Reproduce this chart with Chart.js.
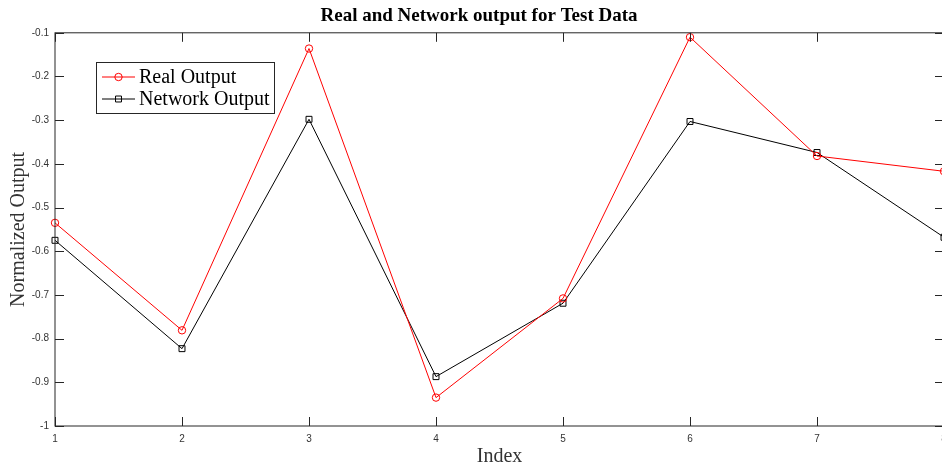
<!DOCTYPE html>
<html>
<head>
<meta charset="utf-8">
<script src="https://cdn.jsdelivr.net/npm/chart.js@4.4.1/dist/chart.umd.min.js"></script>
<style>
  html, body { margin: 0; padding: 0; background: #fff; overflow: hidden; }
  #wrap { width: 960px; height: 469px; }
</style>
</head>
<body>
<div id="wrap"><canvas id="chart" width="960" height="469"></canvas></div>
<script>
// Data
const indexValues = [1, 2, 3, 4, 5, 6, 7, 8];
const realOutput = [-0.535, -0.781, -0.136, -0.935, -0.708, -0.110, -0.382, -0.417];
const networkOutput = [-0.575, -0.823, -0.298, -0.887, -0.719, -0.303, -0.374, -0.568];
const yTicks = [-1, -0.9, -0.8, -0.7, -0.6, -0.5, -0.4, -0.3, -0.2, -0.1];

const serif = '"Liberation Serif", "Times New Roman", serif';
const sans = '"Liberation Sans", Arial, sans-serif';
const axisColor = '#262626';

function toPoints(values) {
  return indexValues.map((x, i) => ({ x: x, y: values[i] }));
}

// Axes box with inward ticks on all four sides (MATLAB style)
const boxPlugin = {
  id: 'box',
  afterDatasetsDraw(chart) {
    const { ctx, chartArea: a, scales } = chart;
    const len = 9;
    ctx.save();
    ctx.strokeStyle = axisColor;
    ctx.lineWidth = 1;
    ctx.strokeRect(a.left, a.top, a.right - a.left, a.bottom - a.top);
    ctx.beginPath();
    scales.x.ticks.forEach(t => {
      const px = Math.round(scales.x.getPixelForValue(t.value)) + 0.5;
      ctx.moveTo(px, a.bottom); ctx.lineTo(px, a.bottom - len);
      ctx.moveTo(px, a.top); ctx.lineTo(px, a.top + len);
    });
    scales.y.ticks.forEach(t => {
      const py = Math.round(scales.y.getPixelForValue(t.value)) + 0.5;
      ctx.moveTo(a.left, py); ctx.lineTo(a.left + len, py);
      ctx.moveTo(a.right, py); ctx.lineTo(a.right - len, py);
    });
    ctx.stroke();
    ctx.restore();
  }
};

// Boxed legend in the upper left of the plot
const legendBox = {
  id: 'legendBox',
  afterDraw(chart) {
    const ctx = chart.ctx;
    const x0 = 96, y0 = 62, w = 178, h = 51;
    ctx.save();
    ctx.fillStyle = '#fff';
    ctx.fillRect(x0, y0, w, h);
    ctx.strokeStyle = axisColor;
    ctx.lineWidth = 1;
    ctx.strokeRect(x0 + 0.5, y0 + 0.5, w, h);
    chart.data.datasets.forEach((ds, i) => {
      const y = y0 + 15 + i * 22;
      ctx.strokeStyle = ds.borderColor;
      ctx.lineWidth = 1;
      ctx.beginPath();
      ctx.moveTo(x0 + 6, y); ctx.lineTo(x0 + 39, y);
      ctx.stroke();
      ctx.fillStyle = 'rgba(0,0,0,0)';
      Chart.helpers.drawPoint(ctx, {
        pointStyle: ds.pointStyle, radius: ds.pointRadius, borderWidth: 1, rotation: 0
      }, x0 + 22.5, y);
      ctx.fillStyle = '#000';
      ctx.font = '20px ' + serif;
      ctx.textBaseline = 'middle';
      ctx.fillText(ds.label, x0 + 43, y + 1);
    });
    ctx.restore();
  }
};

const ctx = document.getElementById('chart').getContext('2d');
const chart = new Chart(ctx, {
  type: 'line',
  data: {
    datasets: [{
      label: 'Real Output',
      data: toPoints(realOutput),
      borderColor: '#ff0000',
      borderWidth: 1,
      pointStyle: 'circle',
      pointRadius: 3.7,
      pointBorderColor: '#ff0000',
      pointBackgroundColor: 'rgba(0,0,0,0)',
      pointBorderWidth: 1,
      tension: 0,
      clip: false
    }, {
      label: 'Network Output',
      data: toPoints(networkOutput),
      borderColor: '#000000',
      borderWidth: 1,
      pointStyle: 'rect',
      pointRadius: 4.2,
      pointBorderColor: '#000000',
      pointBackgroundColor: 'rgba(0,0,0,0)',
      pointBorderWidth: 1,
      tension: 0,
      clip: false
    }]
  },
  options: {
    responsive: false,
    animation: false,
    layout: { padding: { left: 14, right: 16, top: 0, bottom: 0 } },
    plugins: {
      legend: { display: false },
      tooltip: { enabled: false },
      title: {
        display: true,
        text: 'Real and Network output for Test Data',
        color: '#000',
        font: { family: serif, size: 19, weight: 'bold', lineHeight: 1.2 },
        padding: { top: 5, bottom: 5 }
      }
    },
    scales: {
      x: {
        type: 'linear',
        min: 1,
        max: 8,
        afterBuildTicks: s => { s.ticks = indexValues.map(v => ({ value: v })); },
        grid: { display: false, drawTicks: false },
        border: { display: false },
        ticks: { color: '#333', font: { family: sans, size: 10 }, padding: 7, maxRotation: 0 },
        title: {
          display: true, text: 'Index', color: '#333',
          font: { family: serif, size: 20, lineHeight: 1.2 },
          padding: { top: 0, bottom: 0 }
        },
        afterFit: s => { s.height = 43; }
      },
      y: {
        min: -1,
        max: -0.1,
        afterBuildTicks: s => { s.ticks = yTicks.map(v => ({ value: v })); },
        grid: { display: false, drawTicks: false },
        border: { display: false },
        ticks: {
          color: '#333', font: { family: sans, size: 10 }, padding: 6,
          callback: v => String(Number(v.toFixed(1)))
        },
        title: {
          display: true, text: 'Normalized Output', color: '#333',
          font: { family: serif, size: 20, lineHeight: 1.2 },
          padding: { top: -7, bottom: 0 }
        },
        afterFit: s => { s.width = 41; }
      }
    }
  },
  plugins: [boxPlugin, legendBox]
});
</script>
</body>
</html>
